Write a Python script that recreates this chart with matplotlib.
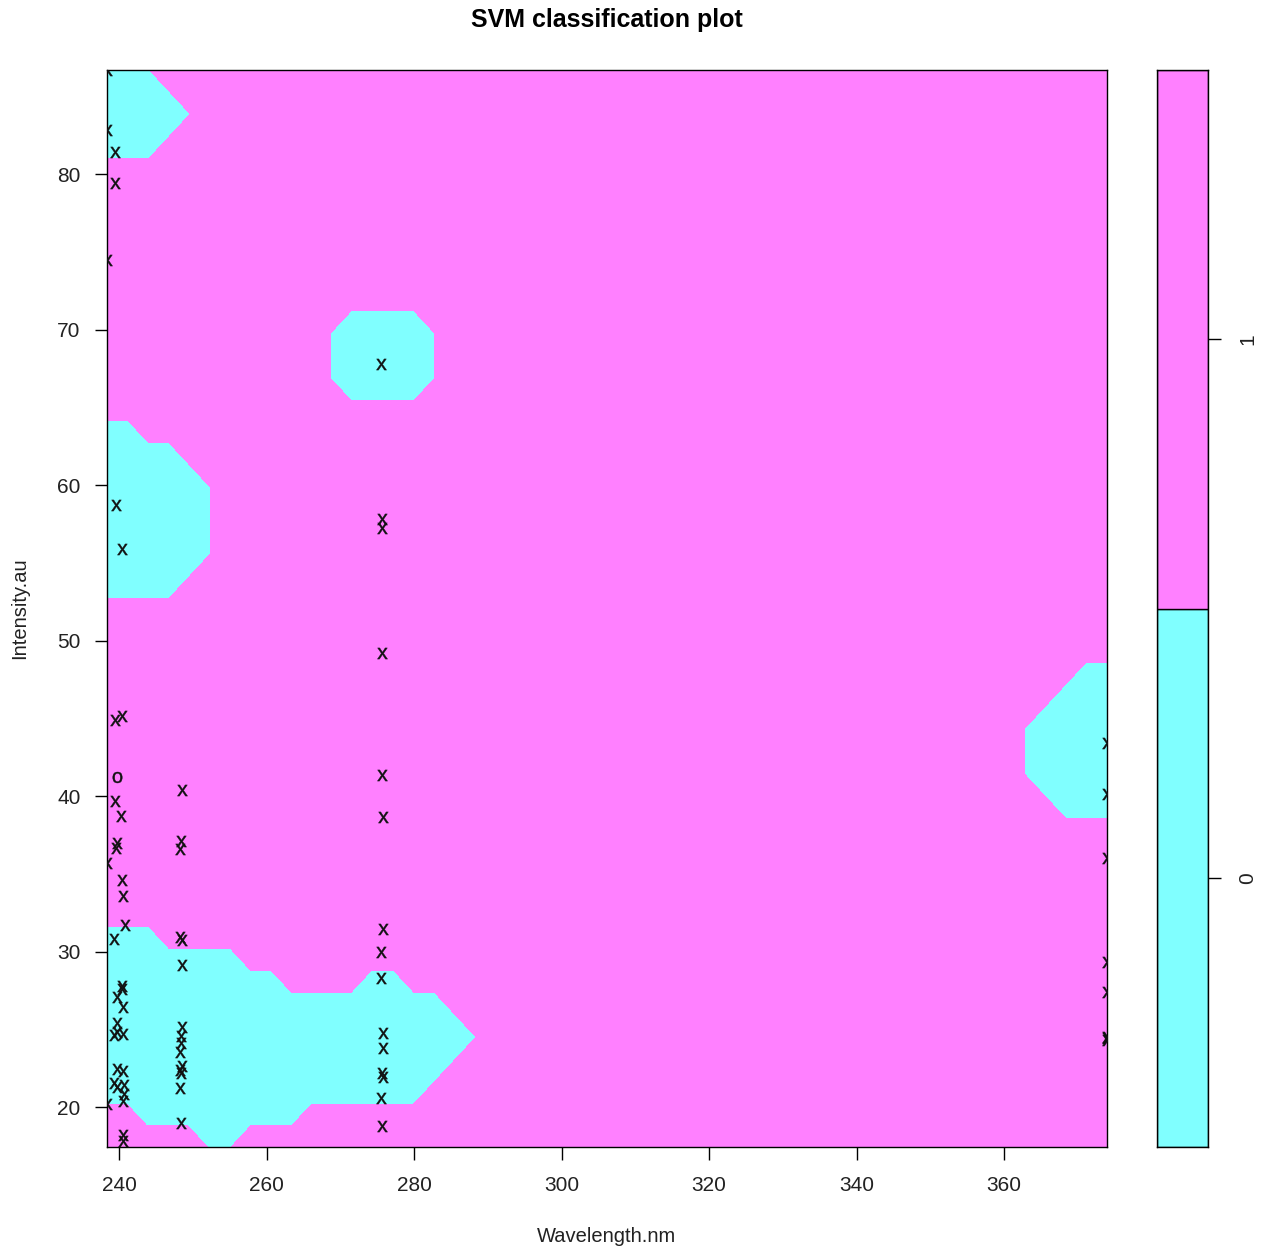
import numpy as np
import matplotlib
matplotlib.use("Agg")
import matplotlib.pyplot as plt
from matplotlib.textpath import TextPath
from matplotlib.font_manager import FontProperties
from matplotlib.path import Path
from matplotlib.patches import Rectangle

plt.rcParams['font.family'] = ['Liberation Sans', 'DejaVu Sans']

# Range of the two predictors; the decision grid spans exactly these
wavelength_range = (238.37, 373.96)
intensity_range = (17.43, 86.69)
grid_n = 50

# Cells of the 50x50 decision grid predicted as class "0":
# (row from bottom, first column, last column)
class0_runs = [
    (49, 0, 1), (48, 0, 2), (47, 0, 3), (46, 0, 2),
    (37, 12, 15), (36, 12, 15), (35, 12, 15),
    (32, 0, 1), (31, 0, 3), (30, 0, 4), (29, 0, 4), (28, 0, 4), (27, 0, 4), (26, 0, 3),
    (21, 48, 49), (20, 47, 49), (19, 46, 49), (18, 46, 49), (17, 46, 49), (16, 47, 49),
    (9, 0, 2), (8, 0, 6), (7, 0, 8), (7, 13, 14), (6, 0, 16), (5, 0, 17),
    (4, 0, 16), (3, 0, 15), (2, 2, 9), (1, 5, 6),
]

class_labels = ["0", "1"]
class_colors = ["#80FFFF", "#FF80FF"]

# Support vectors
sv_wavelength = [
    238.37, 238.37, 238.37, 238.37, 238.37,
    239.46, 239.46, 239.55, 240.44, 239.45, 240.44, 239.45, 240.27,
    239.69, 239.55, 240.44, 240.58, 240.81, 239.36, 240.36, 240.44,
    239.69, 240.58, 239.69, 239.36, 239.69, 240.58, 239.69, 240.58,
    239.36, 239.73, 240.72, 240.72, 240.58, 240.58, 240.58,
    248.58, 248.40, 248.27, 248.27, 248.50, 248.58, 248.58, 248.35,
    248.45, 248.27, 248.58, 248.27, 248.45, 248.27, 248.40,
    275.52, 275.62, 275.62, 275.62, 275.62, 275.76, 275.84, 275.52,
    275.52, 275.76, 275.84, 275.62, 275.84, 275.52, 275.62,
    373.96, 373.96, 373.96, 373.96, 373.96, 373.96, 373.96, 373.96,
]
sv_intensity = [
    86.69, 82.83, 74.47, 35.71, 20.19,
    81.42, 79.44, 58.72, 55.87, 44.89, 45.15, 39.68, 38.72,
    36.95, 36.69, 34.60, 33.57, 31.71, 30.81, 27.78, 27.62,
    27.09, 26.41, 25.42, 24.63, 24.82, 24.70, 22.45, 22.32,
    21.55, 21.29, 21.42, 20.84, 20.39, 18.20, 17.82,
    40.39, 37.13, 36.60, 30.91, 30.74, 29.13, 25.15, 24.58,
    24.13, 23.55, 22.65, 22.39, 22.20, 21.23, 18.98,
    67.78, 57.80, 57.24, 49.18, 41.36, 38.67, 31.43, 29.99,
    28.28, 24.78, 23.78, 22.17, 21.95, 20.56, 18.78,
    43.39, 40.13, 36.00, 29.35, 27.42, 24.52, 24.31, 24.44,
]

# Remaining training observations
obs_wavelength = [239.69]
obs_intensity = [41.20]

W, H = 1264, 1249
fig = plt.figure(figsize=(W / 100, H / 100), dpi=100)
fig.patch.set_facecolor("white")

# ---- main panel -------------------------------------------------------
ax = fig.add_axes([107 / W, 1 - 1147 / H, 1000 / W, 1077 / H])
ax.set_facecolor(class_colors[1])
ax.set_xlim(*wavelength_range)
ax.set_ylim(*intensity_range)

gx = np.linspace(*wavelength_range, grid_n)
gy = np.linspace(*intensity_range, grid_n)
Z = np.ones((grid_n, grid_n))
for row, c0, c1 in class0_runs:
    Z[row, c0:c1 + 1] = 0
ax.contourf(gx, gy, Z, levels=[-1, 0.999], colors=[class_colors[0]])


def glyph_marker(ch):
    fp = FontProperties(family="Liberation Sans")
    tp = TextPath((0, 0), ch, prop=fp, size=1)
    ext = tp.get_extents()
    cx, cy = (ext.x0 + ext.x1) / 2, (ext.y0 + ext.y1) / 2
    return Path(tp.vertices - [cx, cy], tp.codes)


ax.plot(sv_wavelength, sv_intensity, ls="none", marker=glyph_marker("x"),
        ms=8, mfc="#111111", mec="#111111", mew=0.3, zorder=3)
ax.plot(obs_wavelength, obs_intensity, ls="none", marker=glyph_marker("o"),
        ms=8, mfc="#111111", mec="#111111", mew=0.3, zorder=3)

tick_color = "#222222"
ax.set_xticks([240, 260, 280, 300, 320, 340, 360])
ax.set_yticks([20, 30, 40, 50, 60, 70, 80])
ax.tick_params(axis="x", direction="out", length=9, width=1, labelsize=15,
               pad=12, color="black", labelcolor=tick_color)
ax.tick_params(axis="y", direction="out", length=9, width=1, labelsize=15,
               pad=10, color="black", labelcolor=tick_color)
for s in ax.spines.values():
    s.set_linewidth(1)
    s.set_color("black")

# ---- class key --------------------------------------------------------
cax = fig.add_axes([1157 / W, 1 - 1147 / H, 51 / W, 1077 / H])
key_levels = [1, 2, 3]
for k in range(len(class_labels)):
    cax.add_patch(Rectangle((0, key_levels[k]), 1, 1, facecolor=class_colors[k],
                            edgecolor="black", lw=1))
cax.set_xlim(0, 1)
cax.set_ylim(key_levels[0], key_levels[-1])
cax.set_xticks([])
cax.yaxis.tick_right()
cax.set_yticks([1.5, 2.5])
cax.set_yticklabels(class_labels, rotation=90, va="center")
cax.tick_params(axis="y", direction="out", length=9, width=1, labelsize=15,
                pad=13, labelcolor=tick_color)
for s in cax.spines.values():
    s.set_linewidth(1)

# ---- titles -----------------------------------------------------------
fig.text(607 / W, 1 - 20 / H, "SVM classification plot", ha="center", va="center",
         fontsize=18, fontweight="bold")
fig.text(607 / W, 1 - 1236 / H, "Wavelength.nm", ha="center", va="center",
         fontsize=14.5, color=tick_color)
fig.text(20 / W, 1 - 608 / H, "Intensity.au", ha="center", va="center",
         rotation=90, fontsize=14.5, color=tick_color)

fig.savefig("out.png", dpi=100)
